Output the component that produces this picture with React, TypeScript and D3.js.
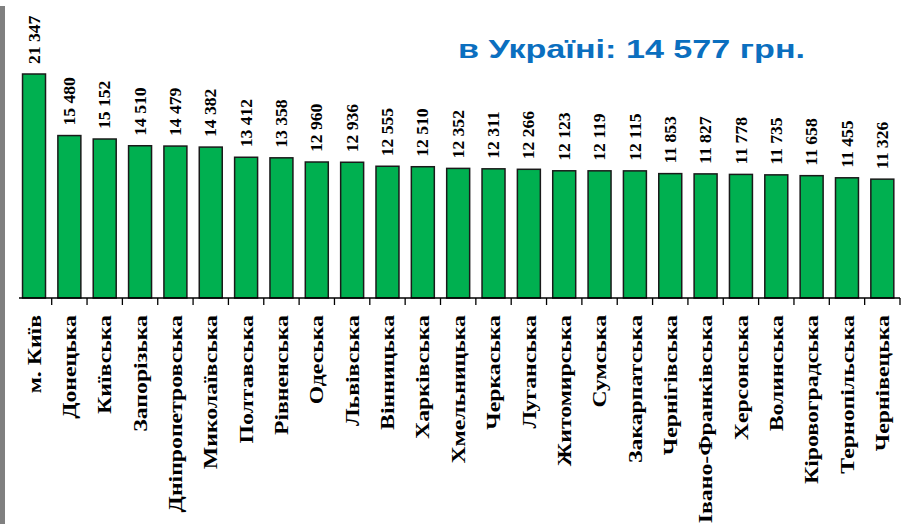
import React from "react";
import * as d3 from "d3";

const categories = [
  "м. Київ", "Донецька", "Київська", "Запорізька", "Дніпропетровська", "Миколаївська",
  "Полтавська", "Рівненська", "Одеська", "Львівська", "Вінницька", "Харківська",
  "Хмельницька", "Черкаська", "Луганська", "Житомирська", "Сумська", "Закарпатська",
  "Чернігівська", "Івано-Франківська", "Херсонська", "Волинська", "Кіровоградська",
  "Тернопільська", "Чернівецька",
];
const values = [
  21347, 15480, 15152, 14510, 14479, 14382, 13412, 13358, 12960, 12936, 12555, 12510,
  12352, 12311, 12266, 12123, 12119, 12115, 11853, 11827, 11778, 11735, 11658, 11455, 11326,
];
const valueLabels = [
  "21 347", "15 480", "15 152", "14 510", "14 479", "14 382", "13 412", "13 358", "12 960",
  "12 936", "12 555", "12 510", "12 352", "12 311", "12 266", "12 123", "12 119", "12 115",
  "11 853", "11 827", "11 778", "11 735", "11 658", "11 455", "11 326",
];
const title = "в Україні: 14 577 грн.";

export default function App() {
  const W = 904, H = 524;
  const baseY = 298;
  const x = d3.scaleBand<string>().domain(categories).range([16.35, 900]).padding(0);
  const y = d3.scaleLinear().domain([0, 21347]).range([baseY, 74]);
  const bw = x.bandwidth() * 0.65;
  const serif = "'Liberation Serif', 'Times New Roman', serif";
  return (
    <svg width={W} height={H} style={{ position: "absolute", left: 0, top: 0, background: "#fff" }}>
      <rect x={0} y={6} width={5} height={H - 6} fill="#808080" />
      {categories.map((c, i) => {
        const cx = (x(c) as number) + x.bandwidth() / 2;
        const top = y(values[i]);
        return (
          <g key={c}>
            <rect x={cx - bw / 2} y={top} width={bw} height={baseY - top} fill="#00B050" stroke="#1a1a1a" strokeWidth={1.5} />
            <text transform={`translate(${cx},${top - 10}) rotate(-90) scale(1.1,1)`} dy="0.35em" fontFamily={serif}
              fontWeight="bold" fontSize={16} fill="#000">{valueLabels[i]}</text>
            <text transform={`translate(${cx},315) rotate(-90) scale(1.25,1)`} dy="0.35em" textAnchor="end" fontFamily={serif}
              fontWeight="bold" fontSize={19} fill="#000">{c}</text>
          </g>
        );
      })}
      <line x1={19} x2={900} y1={baseY} y2={baseY} stroke="#000" strokeWidth={1.5} />
      {categories.map((c) => {
        const tx = (x(c) as number) + x.bandwidth();
        return <line key={"t" + c} x1={tx} x2={tx} y1={baseY} y2={baseY + 7} stroke="#000" strokeWidth={1.3} />;
      })}
      <text x={458} y={58} textLength={347} lengthAdjust="spacingAndGlyphs"
        fontFamily="'Liberation Sans', Arial, sans-serif" fontWeight="bold" fontSize={26}
        fill="#0B6FBF">{title}</text>
    </svg>
  );
}
